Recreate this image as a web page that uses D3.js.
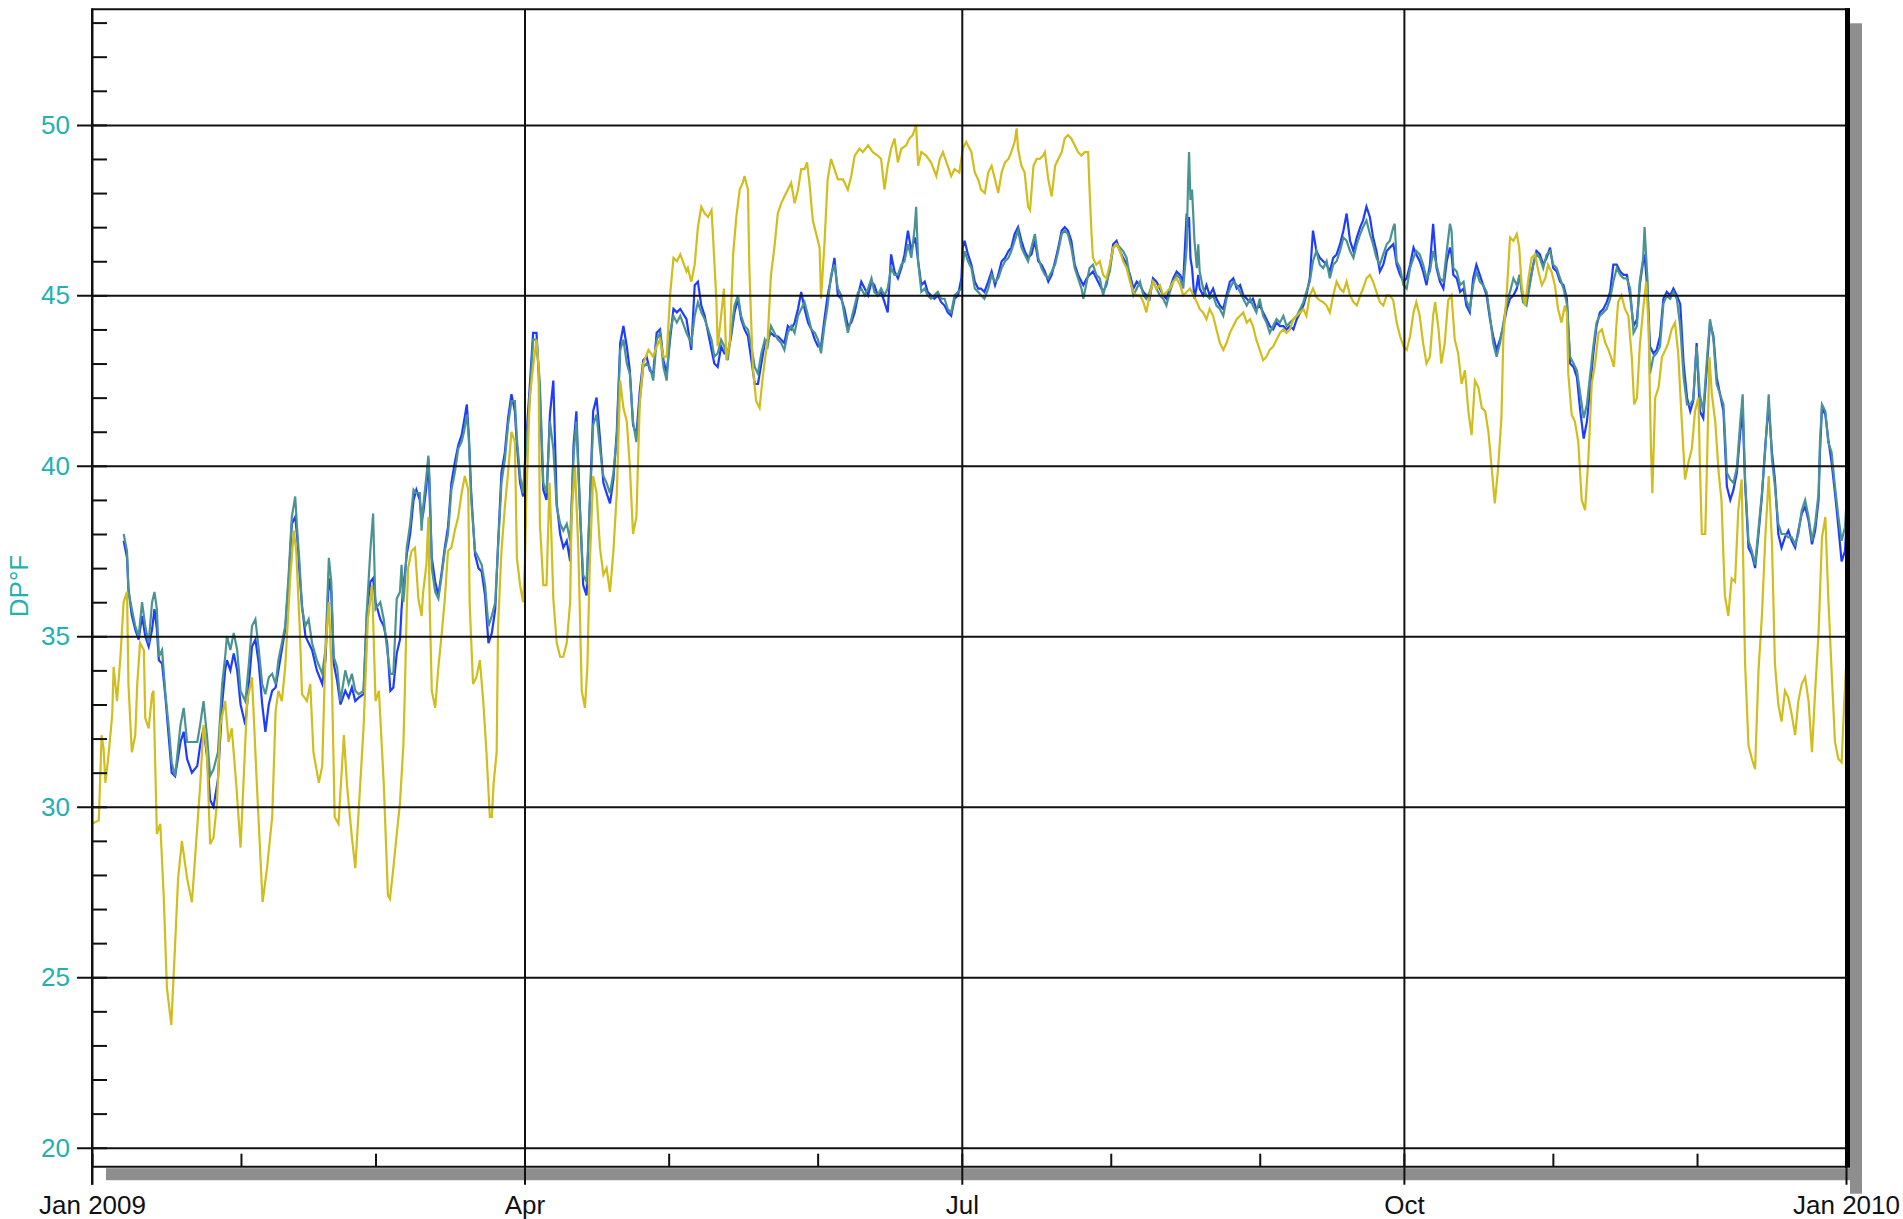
<!DOCTYPE html>
<html>
<head>
<meta charset="utf-8">
<script src="https://cdn.jsdelivr.net/npm/d3@7/dist/d3.min.js"></script>
<style>
body { margin: 0; background: #fff; }
svg text { font-family: "Liberation Sans", Arial, sans-serif; }
</style>
</head>
<body>
<svg width="1903" height="1219"></svg>
<script>
// dew point, deg F -- [day of 2009, value]
var yellowDP = [
  [0,29.5],[1.4,29.6],[2.0,32.1],[2.4,31.7],[2.8,30.7],[3.5,31.6],[4.2,32.7],[4.5,34.1],[5.2,33.1],[5.9,34.4],
  [6.6,36.0],[7.3,36.3],[7.6,33.6],[8.3,31.6],[9.0,32.1],[9.4,33.6],[10.0,34.8],[10.8,34.6],[11.1,32.6],[11.8,32.3],
  [12.5,33.3],[12.8,33.4],[13.5,29.2],[14.2,29.5],[14.9,27.4],[15.6,24.7],[16.5,23.6],[17.2,25.7],[17.9,27.9],[18.7,29.0],
  [19.8,27.9],[20.8,27.2],[21.5,28.6],[22.5,30.6],[23.2,32.4],[23.9,31.6],[24.6,28.9],[25.3,29.1],[26.0,30.1],[26.7,32.4],
  [27.7,33.1],[28.4,31.9],[29.1,32.3],[30.0,30.7],[30.9,28.8],[31.6,30.9],[32.3,33.1],[33.3,33.8],[34.3,30.7],[35.5,27.2],
  [36.4,28.2],[37.5,29.7],[38.2,32.8],[38.8,33.4],[39.5,33.1],[40.2,34.1],[41.3,36.8],[42.0,38.1],[42.5,37.5],[43.2,35.3],
  [43.7,33.3],[44.7,33.1],[45.4,33.6],[46.1,31.6],[47.2,30.7],[47.9,31.2],[48.6,34.6],[49.3,36.0],[49.9,33.8],[50.5,29.7],
  [51.3,29.5],[52.4,32.1],[53.1,30.6],[54.1,29.1],[54.8,28.2],[55.5,29.9],[56.5,32.3],[57.4,35.5],[58.3,36.5],[59.0,33.1],
  [59.7,33.4],[60.7,30.7],[61.6,27.4],[62.0,27.3],
  [62.7,28.2],[63.4,29.2],[64.1,30.1],[64.8,31.8],[65.1,33.3],[65.5,35.8],[65.8,37.0],[66.5,37.5],[67.2,37.6],[67.9,36.1],
  [68.6,35.6],[68.9,36.3],[69.6,37.1],[70.0,38.5],[70.3,35.8],[70.7,33.4],[71.4,32.9],[72.1,34.1],[72.8,35.1],[73.4,36.1],
  [74.1,37.5],[74.8,37.6],[75.5,38.1],[76.2,38.5],[76.9,39.2],[77.6,39.7],[78.3,39.3],[78.6,36.0],[79.3,33.6],[80.0,33.8],
  [80.7,34.3],[81.4,33.1],[82.1,31.6],[82.8,29.7],[83.2,29.7],[83.6,30.7],[84.2,31.6],[84.5,35.3],[85.2,37.5],[85.9,38.8],
  [86.6,39.8],[87.3,41.0],[88.0,40.7],[88.4,37.3],[89.1,36.5],[89.7,36.0],[90.1,37.1],[90.4,39.2],[91.1,42.0],[91.8,42.9],
  [92.5,43.7],[92.9,42.9],[93.2,38.3],[93.9,36.5],[94.6,36.5],[95.2,39.5],[95.6,38.0],[96.0,36.1],[96.7,34.8],[97.4,34.4],
  [98.1,34.4],[98.8,34.8],[99.5,36.0],[99.8,38.5],[100.5,40.0],[101.2,37.5],[101.9,33.4],[102.6,32.9],[103.1,34.1],[103.6,37.1],
  [104.3,39.7],[105.0,39.2],[105.7,37.6],[106.4,36.8],[107.1,37.0],[107.8,36.3],[108.5,37.5],[109.2,39.2],[109.9,42.5],[110.6,41.7],
  [111.3,41.3],[111.9,40.0],[112.6,38.0],[113.3,38.5],[114.0,41.9],[114.7,43.0],[115.8,43.4],[116.8,43.2],[117.5,43.5],[118.2,43.7],
  [118.9,43.2],[119.6,43.2],[120.3,45.0],[121.0,46.1],[121.7,46.0],[122.4,46.2],[123.7,45.7],
  [124.0,45.8],[124.7,45.4],[125.4,45.9],[126.1,47.0],[126.8,47.6],[127.5,47.4],[128.2,47.3],[128.9,47.5],[129.2,46.8],[129.9,44.9],
  [130.2,43.5],[130.9,44.4],[131.5,45.2],[132.0,43.1],[132.7,43.6],[133.4,46.2],[134.1,47.3],[134.8,48.1],[135.4,48.3],[135.8,48.5],
  [136.5,48.1],[136.8,45.8],[137.5,42.9],[138.2,41.9],[138.9,41.7],[139.6,42.6],[140.6,43.7],[141.3,45.6],[142.0,46.4],[142.7,47.4],
  [143.4,47.7],[144.1,47.9],[144.8,48.1],[145.5,48.3],[146.2,47.7],[146.9,48.1],[147.6,48.7],[148.3,48.7],[148.8,48.9],[149.3,48.3],
  [150.0,47.2],[150.7,46.8],[151.4,46.4],[151.7,44.9],[152.4,46.5],[153.1,48.4],[153.8,49.0],[154.5,48.7],[155.2,48.4],[156.3,48.4],
  [157.3,48.1],[158.0,48.5],[158.7,49.1],[159.7,49.3],[160.4,49.2],[161.5,49.4],[162.5,49.2],[163.5,49.1],[164.2,49.0],[164.9,48.1],
  [165.6,48.8],[166.3,49.3],[167.0,49.6],[167.7,48.9],[168.4,49.3],[169.4,49.4],[170.1,49.6],[170.8,49.7],[171.5,50.0],[171.9,48.8],
  [172.6,49.2],[173.6,49.1],[174.6,48.9],[175.7,48.5],[176.4,49.0],[177.1,49.2],[178.1,48.8],[178.8,48.5],[179.5,48.7],[180.5,48.6],
  [181.2,49.3],[181.9,49.5],[183.0,49.2],[183.7,48.6],[184.4,48.4],[185.0,48.1],
  [185.8,48.0],[186.5,48.6],[187.2,48.8],[187.9,48.4],[188.6,48.0],[189.3,48.6],[190.0,48.9],[190.7,49.0],[191.3,49.2],[192.0,49.5],
  [192.4,49.9],[192.7,49.3],[193.4,48.8],[194.1,48.6],[194.8,47.6],[195.2,47.5],[195.9,48.8],[196.6,49.0],[197.2,49.0],[197.9,49.1],
  [198.3,49.2],[199.0,48.4],[199.7,47.9],[200.4,48.8],[201.1,49.0],[201.8,49.2],[202.4,49.6],[203.1,49.7],[203.8,49.6],[204.5,49.4],
  [205.2,49.2],[205.9,49.1],[206.6,49.2],[207.3,49.2],[207.6,48.1],[208.0,46.8],[208.3,46.1],[209.0,45.9],[209.7,46.0],[210.4,45.6],
  [211.1,45.5],[211.8,45.9],[212.5,46.4],[213.2,46.5],[213.9,46.3],[214.6,46.0],[215.3,45.8],[216.0,45.4],[216.7,45.1],[217.4,45.0],
  [218.1,45.0],[218.8,44.8],[219.4,44.5],[220.1,45.0],[220.8,45.4],[221.5,45.2],[222.2,45.3],[222.9,45.0],[223.6,45.1],[224.3,45.2],
  [225.0,45.4],[225.7,45.5],[226.4,45.3],[227.1,45.0],[227.8,45.1],[228.5,45.2],[229.2,45.0],[229.9,44.8],[230.5,44.6],[231.2,44.5],
  [231.9,44.3],[232.6,44.6],[233.3,44.4],[234.0,44.0],[234.7,43.6],[235.4,43.4],[236.1,43.6],[236.8,43.9],[237.5,44.1],[238.2,44.3],
  [238.9,44.4],[239.6,44.5],[240.3,44.2],[241.0,44.3],[241.6,44.1],[242.3,43.7],[243.0,43.4],[243.7,43.1],[244.4,43.2],[245.1,43.4],
  [245.8,43.5],[246.5,43.7],[247.2,43.9],[247.9,44.0],
  [248.6,43.9],[249.3,44.0],[250.0,44.3],[250.7,44.4],[251.4,44.5],[252.1,44.6],[252.7,44.4],[253.4,45.0],[254.1,45.2],[254.8,44.95],
  [255.5,44.85],[256.2,44.8],[256.9,44.7],[257.6,44.5],[258.3,45.0],[259.0,45.4],[259.7,45.2],[260.4,45.1],[261.1,45.4],[261.8,45.0],
  [262.5,44.8],[263.2,44.7],[263.9,45.0],[264.5,45.2],[265.2,45.5],[265.9,45.6],[266.6,45.4],[267.3,45.1],[268.0,44.8],[268.7,44.7],
  [269.4,45.0],[270.1,45.0],[270.8,44.85],[271.5,44.2],[272.2,43.8],[272.9,43.5],[273.6,43.4],[274.3,43.8],[275.0,44.5],[275.6,44.8],
  [276.3,44.4],[277.0,43.6],[277.7,43.0],[278.4,43.2],[279.1,44.4],[279.5,44.8],[280.2,44.0],[280.8,43.0],[281.5,43.6],[282.2,44.85],
  [282.9,45.0],[283.6,43.7],[284.3,43.3],[285.0,42.4],[285.7,42.8],[286.4,41.6],[287.1,40.9],[287.8,42.5],[288.5,42.3],[289.2,41.7],
  [289.9,41.6],[290.6,41.0],[291.3,39.9],[291.9,38.9],[292.6,39.9],[293.3,41.4],[293.7,43.8],[294.4,45.1],[295.1,46.7],[295.8,46.6],
  [296.5,46.8],[297.0,46.4],[297.5,45.3],[298.2,44.7],[298.9,45.5],[299.6,46.1],[300.3,46.2],[301.0,45.7],[301.7,45.3],[302.4,45.5],
  [303.0,45.9],[303.7,45.7],[304.4,45.3],[305.1,44.6],[305.8,44.2],[306.5,44.7],
  [306.9,44.5],[307.2,42.7],[307.9,41.5],[308.6,41.3],[309.3,40.7],[310.0,39.0],[310.7,38.7],[311.4,40.3],[312.1,42.4],[312.8,43.0],
  [313.5,43.9],[314.2,44.0],[314.9,43.6],[315.6,43.4],[316.3,43.1],[316.7,42.9],[317.2,44.1],[317.6,44.8],[318.3,45.0],[319.0,44.6],
  [319.7,44.4],[320.4,43.2],[320.9,41.8],[321.5,42.0],[322.1,43.5],[322.8,44.6],[323.4,45.4],[323.9,44.1],[324.4,40.5],[324.7,39.2],
  [325.3,42.0],[326.0,42.3],[326.7,43.2],[327.4,43.4],[328.0,43.6],[328.7,44.0],[329.4,44.2],[330.1,43.3],[330.8,41.4],[331.5,39.6],
  [332.2,40.1],[332.9,40.5],[333.6,41.6],[334.3,42.0],[334.6,40.1],[335.0,38.0],[335.7,38.0],[336.0,39.6],[336.6,43.2],[337.1,42.1],
  [337.8,41.3],[338.5,39.8],[339.1,39.0],[339.8,36.2],[340.5,35.6],[341.2,36.7],[341.9,36.6],[342.6,38.7],[343.3,39.6],[344.0,34.2],
  [344.7,31.8],[345.4,31.4],[346.1,31.1],[346.8,34.0],[347.5,35.6],[348.2,37.9],[348.9,39.7],[349.6,37.8],[350.2,34.2],[350.9,33.0],
  [351.6,32.5],[352.3,33.4],[353.0,33.2],[353.7,32.7],[354.4,32.1],[355.1,33.1],[355.8,33.6],[356.5,33.8],[357.2,33.1],[357.9,31.6],
  [358.6,33.4],[359.3,35.1],[360.0,37.9],[360.7,38.5],[361.3,36.2],[362.0,34.0],[362.7,31.9],[363.4,31.4],[364.1,31.3],[364.6,32.9],
  [365.0,34.1]
];

var tealDP = [
  [6.6,38.0],[7.3,37.5],[7.6,36.3],[8.3,35.8],[9.0,35.3],[9.7,35.0],[10.4,36.0],[11.1,35.3],[11.8,34.8],[12.5,36.0],
  [13.0,36.3],[13.5,35.8],[13.9,34.4],[14.6,34.6],[15.3,33.3],[16.0,32.3],[16.6,31.3],[17.3,30.9],[18.4,32.4],[19.1,32.9],
  [19.8,31.9],[20.8,31.9],[21.9,31.9],[22.5,32.4],[23.2,33.1],[23.9,32.1],[24.6,30.9],[25.3,31.1],[26.2,31.6],[27.1,33.6],
  [27.7,34.4],[28.1,35.0],[28.8,34.6],[29.5,35.1],[30.2,34.6],[30.9,33.4],[31.9,33.1],[32.6,34.1],[33.3,35.3],[34.0,35.5],
  [34.7,34.6],[35.4,33.6],[36.1,33.3],[36.8,33.8],[37.5,33.9],[38.2,33.6],[38.8,34.3],[39.5,34.8],[40.2,35.3],[40.9,36.8],
  [41.6,38.5],[42.3,39.1],[42.7,38.1],[43.2,37.1],[43.7,35.8],[44.4,35.3],[45.1,35.5],[45.8,34.8],[46.8,34.3],[47.9,33.9],
  [48.6,34.6],[49.3,37.3],[49.8,36.6],[50.3,34.4],[51.0,34.1],[51.7,33.1],[52.7,34.0],[53.4,33.6],[54.1,33.9],[54.8,33.4],
  [55.5,33.3],[56.5,33.4],[57.2,35.8],[57.9,37.5],[58.5,38.6],[59.0,35.8],[60.0,36.0],[60.7,35.5],[61.4,34.6],[62.1,33.9],
  [62.7,33.9],[63.4,36.1],[64.1,36.3],[64.4,37.1],[64.8,36.0],[65.1,36.5],[65.5,37.6],[66.2,38.3],[66.9,39.3],[67.5,39.2],
  [68.2,39.2],[68.6,38.1],[68.9,38.8],[69.6,39.7],[70.0,40.3],[70.3,39.5],[70.7,37.0],[71.4,36.3],[72.1,36.1],[72.8,36.8],
  [73.4,37.5],[74.1,38.0],[74.8,39.3],[75.5,39.8],[76.2,40.5],[76.9,40.7],[77.4,41.0],[78.0,41.5],[78.4,40.8],[78.9,39.0],
  [79.7,37.5],[80.4,37.3],[81.1,37.1],[81.8,36.5],[82.5,35.3],[83.2,35.6],[83.9,36.0],[84.5,37.6],[85.2,39.5],[85.9,40.2],
  [86.6,41.2],[87.3,41.9],[88.0,41.9],[88.4,40.8],[89.1,39.7],[89.7,39.2],[90.4,40.7],[91.1,41.9],[91.8,43.7],[92.5,43.7],
  [93.2,42.4],[93.9,39.5],[94.6,39.2],[95.3,41.3],[96.0,40.5],[96.7,38.8],[97.4,38.3],[98.1,38.1],[98.8,38.3],[99.5,37.8],
  [100.2,40.3],[100.8,41.3],[101.5,38.8],[102.2,36.8],[102.9,36.6],[103.6,38.8],[104.3,41.2],[105.0,41.5],[105.7,40.5],[106.4,39.7],
  [107.1,39.5],[107.8,39.2],[108.5,39.8],[109.2,40.8],[109.9,43.4],[110.6,43.7],[111.3,43.0],[111.9,42.7],[112.6,41.3],[113.3,40.7],
  [114.0,41.9],[114.7,42.9],[115.4,43.0],[116.1,42.9],[116.8,42.5],[117.5,43.7],[118.2,43.9],[118.9,42.9],[119.6,42.5],[120.3,43.9],
  [121.0,44.4],[121.7,44.2],[122.4,44.4],[123.7,43.9],
  [124.7,43.6],[125.4,44.4],[126.1,44.8],[126.8,44.5],[127.5,44.3],[128.2,44.0],[128.9,43.7],[129.5,43.2],[130.2,43.3],[130.9,43.7],
  [131.6,43.5],[132.3,43.1],[133.0,43.9],[133.7,44.7],[134.4,45.0],[135.1,44.4],[135.8,44.1],[136.5,44.0],[137.2,43.5],[137.9,42.9],
  [138.6,42.7],[139.3,43.3],[140.0,43.7],[140.6,43.5],[141.3,44.1],[142.0,43.9],[142.7,43.7],[143.4,43.6],[144.1,43.4],[144.8,43.9],
  [145.5,44.1],[146.2,43.9],[146.9,44.4],[147.6,44.6],[148.3,44.8],[149.0,44.4],[149.7,44.0],[150.4,43.9],[151.1,43.7],[151.7,43.3],
  [152.4,44.1],[153.1,44.7],[153.8,45.6],[154.5,45.9],[155.2,45.2],[155.9,45.0],[156.6,44.4],[157.3,43.9],[158.0,44.3],[158.7,44.7],
  [159.4,45.1],[160.1,45.2],[160.8,45.0],[161.5,45.2],[162.2,45.5],[162.8,45.1],[163.5,45.0],[164.2,45.2],[164.9,45.0],[165.6,45.2],
  [166.3,45.8],[167.0,45.6],[167.7,45.6],[168.4,45.9],[169.1,46.0],[169.8,46.5],[170.5,46.1],[171.2,47.0],[171.5,47.6],[171.9,46.0],
  [172.6,45.1],[173.3,45.2],[173.9,45.0],[174.6,44.9],[175.3,45.0],[176.0,45.1],[176.7,44.9],[177.4,44.9],[178.1,44.6],[178.8,44.5],
  [179.5,45.0],[180.2,45.1],[180.9,45.2],[181.2,45.9],[181.6,46.3],[182.3,46.0],[183.0,45.8],[183.7,45.2],[184.4,45.1],[185.0,45.0],
  [185.7,44.9],
  [186.5,45.2],[187.2,45.6],[187.9,45.4],[188.6,45.5],[189.3,45.8],[190.0,46.0],[190.7,46.1],[191.3,46.3],[192.0,46.6],[192.7,46.9],
  [193.4,46.4],[194.1,46.2],[194.8,46.0],[195.5,46.4],[196.2,46.8],[196.9,46.1],[197.6,45.8],[198.3,45.6],[199.0,45.5],[199.7,45.7],
  [200.4,45.9],[201.1,46.3],[201.8,46.8],[202.4,46.9],[203.1,46.8],[203.8,46.4],[204.5,45.8],[205.2,45.5],[205.9,45.2],[206.3,44.9],
  [207.0,45.4],[207.6,45.8],[208.3,45.9],[209.0,45.6],[209.7,45.5],[210.4,45.0],[211.1,45.4],[211.8,45.7],[212.5,46.4],[213.2,46.5],
  [213.9,46.4],[214.6,46.3],[215.3,46.1],[216.0,45.5],[216.7,45.0],[217.4,45.2],[218.1,45.4],[218.8,45.0],[219.4,44.9],[220.1,45.1],
  [220.8,45.4],[221.5,45.2],[222.2,45.0],[222.9,44.9],[223.6,44.7],[224.3,45.1],[225.0,45.4],[225.7,45.6],[226.4,45.5],[227.1,45.2],
  [227.8,46.4],[228.1,48.3],[228.3,49.2],[228.6,47.8],[228.9,48.1],[229.4,46.6],[229.9,45.8],[230.2,46.5],[230.5,45.7],[231.2,45.2],
  [231.9,45.0],[232.6,44.9],[233.3,45.0],[234.0,44.7],[234.7,44.6],[235.4,44.4],[236.1,44.9],[236.8,45.2],[237.5,45.4],[238.2,45.3],
  [238.9,45.1],[239.6,44.9],[240.3,44.7],[241.0,44.9],[241.6,44.7],[242.3,44.5],[243.0,44.9],[243.7,44.4],[244.4,44.2],[245.1,43.9],
  [245.8,44.1],[246.5,44.3],[247.2,44.2],[247.9,44.4],
  [248.6,44.1],[249.3,44.2],[250.0,44.3],[250.7,44.4],[251.4,44.6],[252.1,44.8],[252.7,45.1],[253.4,45.4],[254.1,46.0],[254.8,46.3],
  [255.5,45.9],[256.2,45.8],[256.9,46.0],[257.6,45.5],[258.3,45.9],[259.0,46.0],[259.7,46.3],[260.4,46.7],[261.1,46.6],[261.8,46.3],
  [262.5,46.1],[263.2,46.5],[263.9,46.8],[264.5,47.0],[265.2,47.2],[265.9,46.8],[266.6,46.5],[267.3,46.1],[268.0,45.9],[268.7,46.2],
  [269.4,46.5],[270.1,46.6],[270.8,47.0],[271.1,47.1],[271.5,46.0],[272.2,45.8],[272.9,45.3],[273.6,45.2],[274.3,45.8],[275.0,46.1],
  [275.6,46.3],[276.3,46.2],[277.0,45.9],[277.7,45.5],[278.4,45.7],[279.1,46.3],[279.8,45.9],[280.5,45.5],[281.2,45.4],[281.9,46.3],
  [282.6,47.1],[282.9,46.9],[283.3,45.8],[284.0,45.7],[284.7,45.3],[285.4,45.4],[286.0,44.85],[286.7,44.6],[287.4,45.3],[288.1,45.7],
  [288.8,45.4],[289.5,45.3],[290.2,45.1],[290.9,44.4],[291.6,43.6],[292.3,43.2],[293.0,43.6],[293.7,44.2],[294.4,44.8],[295.1,45.1],
  [295.8,45.5],[296.5,45.3],[297.1,45.6],[297.8,44.8],[298.5,44.7],[299.2,45.3],[299.9,45.9],[300.6,46.2],[301.3,46.1],[302.0,45.8],
  [302.7,46.2],[303.4,46.3],[304.1,45.9],[304.8,45.8],[305.5,45.5],
  [306.2,45.2],[306.9,44.75],[307.6,43.2],[308.3,43.0],[309.0,42.8],[309.7,42.1],[310.4,41.4],[311.1,41.8],[311.7,42.6],[312.4,43.5],
  [313.1,44.2],[313.8,44.4],[314.5,44.5],[315.2,44.6],[315.9,44.9],[316.6,45.4],[317.3,45.8],[318.0,45.6],[318.7,45.5],[319.4,45.5],
  [320.1,45.2],[320.8,43.9],[321.5,44.1],[322.1,45.4],[322.8,46.1],[323.1,47.0],[323.7,45.4],[324.2,42.7],[324.9,43.2],[325.6,43.3],
  [326.3,43.5],[327.0,44.75],[327.7,45.0],[328.4,44.9],[329.1,45.1],[329.8,44.9],[330.5,44.1],[331.2,42.6],[331.9,41.8],[332.6,41.8],
  [333.2,41.95],[333.9,43.5],[334.6,42.1],[335.3,41.6],[336.0,43.0],[336.7,44.3],[337.4,43.7],[338.1,42.4],[338.8,42.1],[339.5,41.8],
  [340.2,39.8],[340.9,39.6],[341.6,39.5],[342.3,39.95],[343.0,41.3],[343.5,42.1],[344.0,39.6],[344.7,37.8],[345.4,37.5],[346.1,37.1],
  [346.8,38.15],[347.5,39.2],[348.2,40.5],[348.9,42.1],[349.6,40.2],[350.2,39.4],[350.9,38.3],[351.6,38.0],[352.3,38.0],[353.0,37.9],
  [353.7,37.9],[354.4,37.7],[355.1,38.0],[355.8,38.7],[356.5,39.0],[357.2,38.5],[357.9,37.8],[358.6,38.3],[359.3,39.2],[359.6,40.7],
  [360.0,41.8],[360.7,41.6],[361.3,40.7],[362.0,40.4],[362.7,39.4],[363.4,38.5],[364.1,37.8],[364.8,38.2],[365.0,38.7]
];

var blueDP = [
  [6.6,37.8],[7.3,37.3],[7.6,36.4],[8.3,35.6],[9.0,35.2],[9.7,34.9],[10.4,35.6],[11.1,35.0],[11.8,34.7],[12.5,35.2],
  [13.0,35.8],[13.5,35.2],[13.9,34.3],[14.6,34.2],[15.3,33.2],[16.0,32.0],[16.6,31.0],[17.3,30.9],[18.4,31.9],[19.1,32.2],
  [19.8,31.4],[20.8,31.0],[21.9,31.2],[22.5,31.8],[23.2,32.3],[23.9,31.5],[24.6,30.2],[25.3,30.0],[26.2,30.8],[27.1,33.0],
  [27.7,34.0],[28.1,34.3],[28.8,34.0],[29.5,34.5],[30.2,34.0],[30.9,33.0],[31.9,32.4],[32.6,33.5],[33.3,34.7],[34.0,34.9],
  [34.7,34.2],[35.4,33.0],[36.1,32.2],[36.8,33.0],[37.5,33.4],[38.2,33.5],[38.8,34.0],[39.5,34.6],[40.2,35.2],[40.9,36.6],
  [41.6,38.3],[42.3,38.5],[42.7,37.9],[43.2,36.8],[43.7,35.9],[44.4,35.0],[45.1,34.8],[45.8,34.6],[46.8,34.0],[47.9,33.6],
  [48.6,34.3],[49.3,36.7],[49.8,36.3],[50.3,34.2],[51.0,33.7],[51.7,33.0],[52.7,33.4],[53.4,33.2],[54.1,33.5],[54.8,33.1],
  [55.5,33.2],[56.5,33.3],[57.2,35.7],[57.9,36.6],[58.5,36.7],[59.0,36.0],[60.0,35.5],[60.7,35.3],[61.4,34.8],[62.1,33.4],
  [62.7,33.5],[63.4,34.5],[64.1,34.9],[64.4,35.8],[64.8,36.5],[65.1,36.8],[65.5,37.4],[66.2,38.0],[66.9,39.0],[67.5,39.3],
  [68.2,39.0],[68.6,38.4],[68.9,38.6],[69.6,39.4],[70.0,40.2],[70.3,39.0],[70.7,37.3],[71.4,36.6],[72.1,36.2],[72.8,36.9],
  [73.4,37.6],[74.1,38.2],[74.8,39.5],[75.5,40.1],[76.2,40.6],[76.9,40.9],[77.4,41.3],[78.0,41.8],[78.4,40.9],[78.9,39.2],
  [79.7,37.4],[80.4,37.0],[81.1,36.9],[81.8,36.2],[82.5,34.8],[83.2,35.1],[83.9,35.8],[84.5,37.7],[85.2,39.8],[85.9,40.4],
  [86.6,41.4],[87.3,42.1],[88.0,41.6],[88.4,40.6],[89.1,39.5],[89.7,39.1],[90.4,40.9],[91.1,42.3],[91.8,43.9],[92.5,43.9],
  [93.2,42.0],[93.9,39.3],[94.6,39.0],[95.3,41.5],[96.0,42.5],[96.7,38.9],[97.4,38.0],[98.1,37.6],[98.8,37.8],[99.5,37.2],
  [100.2,40.6],[100.8,41.6],[101.5,38.9],[102.2,36.5],[102.9,36.2],[103.6,38.9],[104.3,41.6],[105.0,42.0],[105.7,40.8],[106.4,39.5],
  [107.1,39.2],[107.8,38.9],[108.5,39.6],[109.2,41.0],[109.9,43.6],[110.6,44.1],[111.3,43.5],[111.9,42.8],[112.6,41.2],[113.3,40.9],
  [114.0,42.2],[114.7,43.1],[115.4,43.2],[116.1,42.8],[116.8,42.7],[117.5,43.9],[118.2,44.0],[118.9,43.1],[119.6,42.7],[120.3,43.7],
  [121.0,44.6],[121.7,44.5],[122.4,44.6],[123.7,44.3],
  [124.7,43.4],[125.4,45.3],[126.1,45.4],[126.8,44.7],[127.5,44.4],[128.2,43.9],[128.9,43.4],[129.5,43.0],[130.2,42.9],[130.9,43.5],
  [131.6,43.3],[132.3,43.3],[133.0,43.8],[133.7,44.5],[134.4,44.9],[135.1,44.3],[135.8,44.0],[136.5,43.8],[137.2,43.1],[137.9,42.4],
  [138.6,42.4],[139.3,43.0],[140.0,43.6],[140.6,43.7],[141.3,43.9],[142.0,43.8],[142.7,43.8],[143.4,43.7],[144.1,43.6],[144.8,44.1],
  [145.5,44.0],[146.2,44.2],[146.9,44.6],[147.6,45.1],[148.3,44.6],[149.0,44.2],[149.7,44.0],[150.4,43.7],[151.1,43.5],[151.7,43.5],
  [152.4,44.3],[153.1,45.0],[153.8,45.5],[154.5,46.1],[155.2,45.0],[155.9,44.9],[156.6,44.6],[157.3,44.1],[158.0,44.2],[158.7,44.5],
  [159.4,45.0],[160.1,45.4],[160.8,45.2],[161.5,45.0],[162.2,45.4],[162.8,45.3],[163.5,45.0],[164.2,45.1],[164.9,44.8],[165.6,44.5],
  [166.3,46.2],[167.0,45.7],[167.7,45.5],[168.4,45.8],[169.1,46.2],[169.8,46.9],[170.5,46.3],[171.2,46.7],[171.5,46.5],[171.9,46.0],
  [172.6,45.3],[173.3,45.4],[173.9,45.1],[174.6,45.0],[175.3,44.9],[176.0,45.0],[176.7,44.8],[177.4,44.7],[178.1,44.5],[178.8,44.4],
  [179.5,44.9],[180.2,45.0],[180.9,45.5],[181.2,46.4],[181.6,46.6],[182.3,46.2],[183.0,45.9],[183.7,45.4],[184.4,45.2],[185.0,45.2],
  [185.7,45.1],
  [186.5,45.4],[187.2,45.7],[187.9,45.3],[188.6,45.6],[189.3,46.0],[190.0,46.1],[190.7,46.3],[191.3,46.4],[192.0,46.8],[192.7,47.0],
  [193.4,46.6],[194.1,46.3],[194.8,46.1],[195.5,46.2],[196.2,46.6],[196.9,46.0],[197.6,45.9],[198.3,45.7],[199.0,45.4],[199.7,45.6],
  [200.4,46.0],[201.1,46.4],[201.8,46.9],[202.4,47.0],[203.1,46.9],[203.8,46.6],[204.5,45.9],[205.2,45.6],[205.9,45.4],[206.3,45.3],
  [207.0,45.5],[207.6,45.6],[208.3,45.7],[209.0,45.5],[209.7,45.3],[210.4,45.1],[211.1,45.3],[211.8,45.8],[212.5,46.5],[213.2,46.6],
  [213.9,46.3],[214.6,46.1],[215.3,45.9],[216.0,45.6],[216.7,45.2],[217.4,45.4],[218.1,45.3],[218.8,45.1],[219.4,45.0],[220.1,44.9],
  [220.8,45.5],[221.5,45.4],[222.2,45.2],[222.9,45.0],[223.6,44.9],[224.3,45.2],[225.0,45.5],[225.7,45.7],[226.4,45.6],[227.1,45.4],
  [227.8,47.4],[228.1,47.0],[228.3,47.3],[228.6,46.1],[228.9,45.8],[229.4,44.9],[229.9,45.3],[230.2,45.6],[230.5,45.2],[231.2,45.0],
  [231.9,45.3],[232.6,45.0],[233.3,45.2],[234.0,44.9],[234.7,44.7],[235.4,44.6],[236.1,45.0],[236.8,45.4],[237.5,45.5],[238.2,45.2],
  [238.9,45.3],[239.6,45.0],[240.3,44.9],[241.0,44.8],[241.6,44.9],[242.3,44.6],[243.0,44.7],[243.7,44.5],[244.4,44.3],[245.1,44.1],
  [245.8,44.0],[246.5,44.2],[247.2,44.1],[247.9,44.1],
  [248.6,44.0],[249.3,44.1],[250.0,44.0],[250.7,44.3],[251.4,44.5],[252.1,44.7],[252.7,45.0],[253.4,45.5],[254.1,46.9],[254.8,46.3],
  [255.5,46.1],[256.2,46.0],[256.9,45.9],[257.6,45.7],[258.3,46.1],[259.0,46.2],[259.7,46.5],[260.4,46.9],[261.1,47.4],[261.8,46.6],
  [262.5,46.3],[263.2,46.7],[263.9,47.0],[264.5,47.2],[265.2,47.6],[265.9,47.3],[266.6,46.7],[267.3,46.3],[268.0,45.7],[268.7,45.9],
  [269.4,46.3],[270.1,46.4],[270.8,46.5],[271.1,46.3],[271.5,45.9],[272.2,45.6],[272.9,45.4],[273.6,45.5],[274.3,45.9],[275.0,46.4],
  [275.6,46.2],[276.3,46.0],[277.0,45.7],[277.7,45.3],[278.4,45.9],[279.1,47.1],[279.8,45.8],[280.5,45.4],[281.2,45.2],[281.9,46.0],
  [282.6,46.4],[282.9,46.2],[283.3,45.6],[284.0,45.5],[284.7,45.1],[285.4,45.2],[286.0,44.7],[286.7,44.5],[287.4,45.5],[288.1,45.9],
  [288.8,45.6],[289.5,45.3],[290.2,45.0],[290.9,44.3],[291.6,43.8],[292.3,43.4],[293.0,43.7],[293.7,44.1],[294.4,44.6],[295.1,44.9],
  [295.8,45.0],[296.5,45.2],[297.1,45.6],[297.8,44.9],[298.5,44.8],[299.2,45.4],[299.9,45.9],[300.6,46.3],[301.3,46.2],[302.0,45.9],
  [302.7,46.1],[303.4,46.4],[304.1,45.8],[304.8,45.7],[305.5,45.4],
  [306.2,45.3],[306.9,44.9],[307.6,43.0],[308.3,42.9],[309.0,42.6],[309.7,41.6],[310.4,40.8],[311.1,41.3],[311.7,42.2],[312.4,43.3],
  [313.1,44.1],[313.8,44.5],[314.5,44.6],[315.2,44.8],[315.9,45.1],[316.6,45.9],[317.3,45.9],[318.0,45.7],[318.7,45.6],[319.4,45.6],
  [320.1,45.0],[320.8,44.1],[321.5,44.3],[322.1,45.3],[322.8,46.0],[323.1,46.2],[323.7,45.1],[324.2,43.5],[324.9,43.3],[325.6,43.4],
  [326.3,43.8],[327.0,44.9],[327.7,45.1],[328.4,45.0],[329.1,45.2],[329.8,45.0],[330.5,44.75],[331.2,43.0],[331.9,42.0],[332.6,41.6],
  [333.2,41.9],[333.9,43.6],[334.6,41.6],[335.3,41.4],[336.0,42.8],[336.7,44.2],[337.4,43.8],[338.1,42.6],[338.8,42.1],[339.5,41.6],
  [340.2,39.4],[340.9,39.0],[341.6,39.3],[342.3,39.8],[343.0,41.0],[343.5,41.6],[344.0,39.5],[344.7,37.6],[345.4,37.4],[346.1,37.0],
  [346.8,38.0],[347.5,39.1],[348.2,40.6],[348.9,41.8],[349.6,40.4],[350.2,39.6],[350.9,38.0],[351.6,37.6],[352.3,37.9],[353.0,38.1],
  [353.7,37.8],[354.4,37.6],[355.1,38.1],[355.8,38.6],[356.5,38.8],[357.2,38.4],[357.9,37.7],[358.6,38.1],[359.3,39.0],[359.6,40.4],
  [360.0,41.7],[360.7,41.5],[361.3,40.8],[362.0,40.1],[362.7,39.2],[363.4,38.2],[364.1,37.2],[364.8,37.5],[365.0,38.0]
];

var yMajor = [20, 25, 30, 35, 40, 45, 50];
var yMinor = d3.range(20, 54);

var svg = d3.select("svg"),
    plotL = 92, plotR = 1846, plotT = 9.3, plotB = 1166.7;

var start = new Date(2009, 0, 1), end = new Date(2010, 0, 1);

var x = d3.scaleTime().domain([start, end]).range([plotL, plotR]),
    y = d3.scaleLinear().domain([19.443, 53.39]).range([plotB, plotT]);

function dayDate(d) { return d3.timeHour.offset(start, Math.round(d * 24)); }

// drop shadow
svg.append("rect").attr("x", plotR + 4).attr("y", plotT + 14).attr("width", 12).attr("height", plotB - plotT + 13)
    .attr("fill", "#8e8e8e");
svg.append("rect").attr("x", plotL + 14).attr("y", plotB + 1.5).attr("width", plotR + 16 - plotL - 14).attr("height", 12)
    .attr("fill", "#8e8e8e");

var line = d3.line()
    .x(function(d) { return x(dayDate(d[0])); })
    .y(function(d) { return y(d[1]); });

var g = svg.append("g");

g.append("path").datum(blueDP)
    .attr("fill", "none").attr("stroke", "#1e3cff").attr("stroke-width", 2.2)
    .attr("d", line);
g.append("path").datum(tealDP)
    .attr("fill", "none").attr("stroke", "#4b9393").attr("stroke-width", 2.2)
    .attr("d", line);
g.append("path").datum(yellowDP)
    .attr("fill", "none").attr("stroke", "#d1bd1d").attr("stroke-width", 2.2)
    .attr("d", line);

// horizontal grid + major ticks + labels
var gy = svg.append("g").attr("transform", "translate(" + plotL + ",0)")
    .call(d3.axisLeft(y).tickValues(yMajor).tickSize(15).tickPadding(7));
gy.select(".domain").remove();
gy.selectAll(".tick line").attr("stroke", "#111").attr("stroke-width", 2)
    .attr("x1", -15).attr("x2", plotR - plotL);
gy.selectAll(".tick text").attr("fill", "#22b0b0").style("font-size", "26px");

// minor y ticks
var gym = svg.append("g").attr("transform", "translate(" + plotL + ",0)")
    .call(d3.axisRight(y).tickValues(yMinor).tickSize(15).tickFormat(""));
gym.select(".domain").remove();
gym.selectAll(".tick line").attr("stroke", "#111").attr("stroke-width", 2);

// minor x ticks (months)
var gxm = svg.append("g").attr("transform", "translate(0," + plotB + ")")
    .call(d3.axisBottom(x).ticks(d3.timeMonth.every(1)).tickSize(-13).tickFormat(""));
gxm.select(".domain").remove();
gxm.selectAll(".tick line").attr("stroke", "#111").attr("stroke-width", 2);

// quarters: vertical grid + labels
var fmt = function(d) { return d.getMonth() === 0 ? d3.timeFormat("%b %Y")(d) : d3.timeFormat("%b")(d); };
var gx = svg.append("g").attr("transform", "translate(0," + plotB + ")")
    .call(d3.axisBottom(x).ticks(d3.timeMonth.every(3)).tickSize(18).tickPadding(11).tickFormat(fmt));
gx.select(".domain").remove();
gx.selectAll(".tick line").attr("stroke", "#111").attr("stroke-width", 2)
    .attr("y1", -(plotB - plotT));
gx.selectAll(".tick text").attr("fill", "#111").style("font-size", "26px");

// frame
svg.append("line").attr("x1", plotL).attr("x2", plotR + 4).attr("y1", plotT).attr("y2", plotT)
    .attr("stroke", "#111").attr("stroke-width", 2);
svg.append("line").attr("x1", plotL).attr("x2", plotR).attr("y1", plotB).attr("y2", plotB)
    .attr("stroke", "#111").attr("stroke-width", 2);
svg.append("line").attr("x1", plotL).attr("x2", plotL).attr("y1", plotT - 1).attr("y2", plotB + 18)
    .attr("stroke", "#111").attr("stroke-width", 2);
svg.append("line").attr("x1", plotR + 1.5).attr("x2", plotR + 1.5).attr("y1", plotT - 1).attr("y2", plotB + 1)
    .attr("stroke", "#000").attr("stroke-width", 5);

// y title
svg.append("text")
    .attr("transform", "translate(28,586) rotate(-90)")
    .attr("text-anchor", "middle")
    .attr("fill", "#22b0b0")
    .style("font-size", "26px")
    .text("DP°F");
</script>
</body>
</html>
